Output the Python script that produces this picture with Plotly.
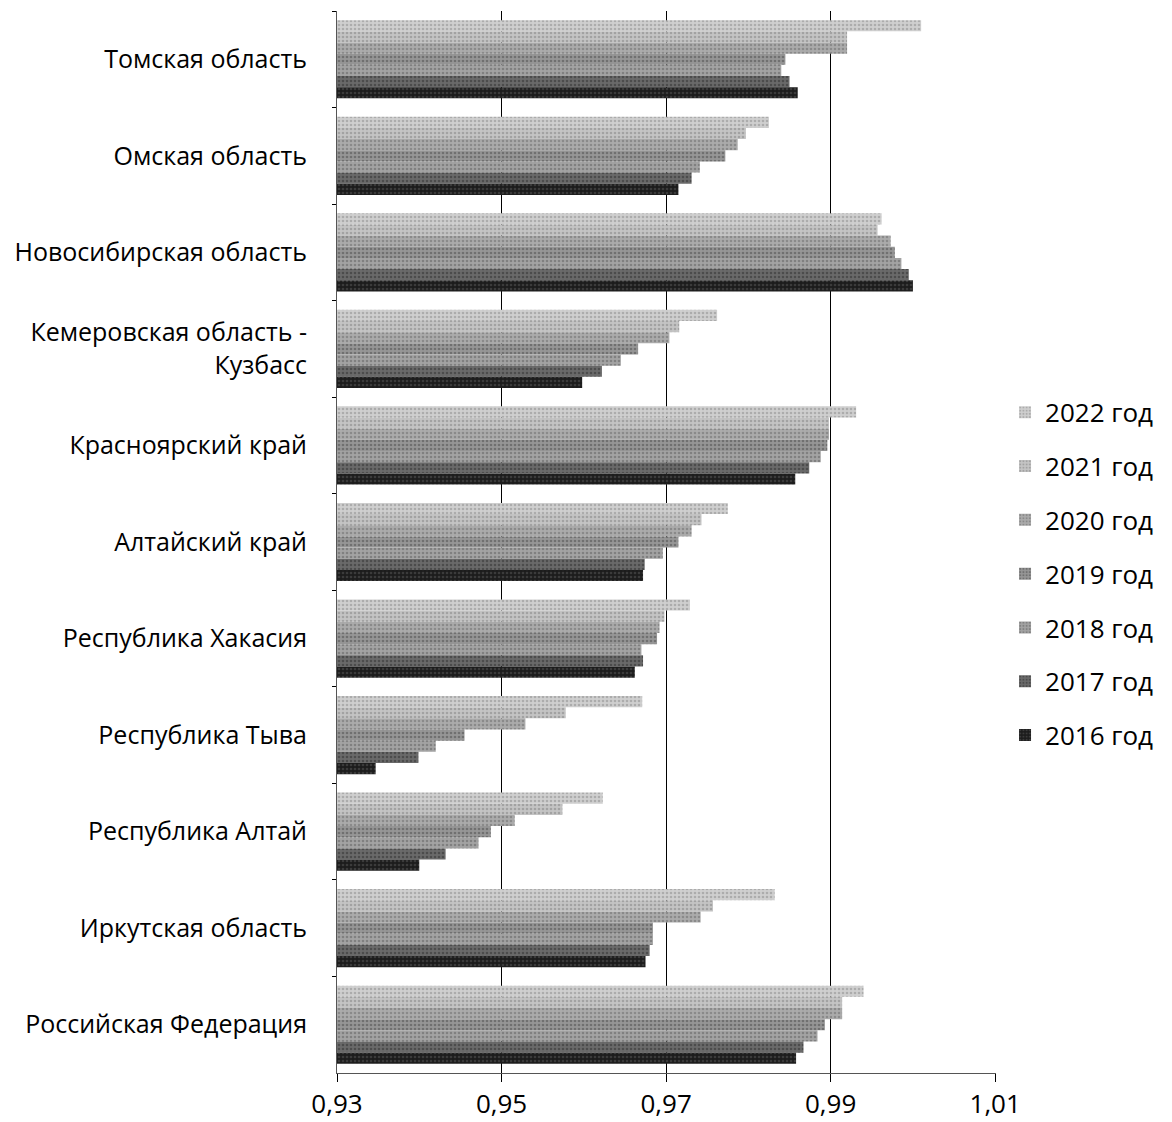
import plotly.graph_objects as go

regions = [
    "Томская область",
    "Омская область",
    "Новосибирская область",
    "Кемеровская область -<br>Кузбасс",
    "Красноярский край",
    "Алтайский край",
    "Республика Хакасия",
    "Республика Тыва",
    "Республика Алтай",
    "Иркутская область",
    "Российская Федерация",
]

years = ["2022 год", "2021 год", "2020 год", "2019 год", "2018 год", "2017 год", "2016 год"]

y2022 = [1.001, 0.9825, 0.9962, 0.9762, 0.9931, 0.9775, 0.9729, 0.9671, 0.9623, 0.9832, 0.9940]
y2021 = [0.992, 0.9797, 0.9957, 0.9716, 0.9898, 0.9743, 0.9698, 0.9578, 0.9574, 0.9757, 0.9914]
y2020 = [0.992, 0.9787, 0.9973, 0.9704, 0.9898, 0.9731, 0.9692, 0.9529, 0.9516, 0.9742, 0.9914]
y2019 = [0.9845, 0.9772, 0.9978, 0.9666, 0.9896, 0.9715, 0.9689, 0.9455, 0.9487, 0.9684, 0.9893]
y2018 = [0.984, 0.9741, 0.9986, 0.9645, 0.9888, 0.9696, 0.9670, 0.9420, 0.9472, 0.9684, 0.9884]
y2017 = [0.985, 0.9731, 0.9995, 0.9622, 0.9874, 0.9674, 0.9672, 0.9399, 0.9432, 0.9680, 0.9867]
y2016 = [0.986, 0.9715, 1.0000, 0.9598, 0.9857, 0.9672, 0.9662, 0.9347, 0.9400, 0.9675, 0.9858]

series = [y2022, y2021, y2020, y2019, y2018, y2017, y2016]

bg_colors = ["#cfcfcf", "#c4c4c4", "#ababab", "#969696", "#a3a3a3", "#6a6a6a", "#1c1c1c"]
fg_colors = ["#8a8a8a", "#808080", "#6a6a6a", "#4a4a4a", "#5e5e5e", "#2e2e2e", "#5a5a5a"]

tick_vals = [0.93, 0.95, 0.97, 0.99, 1.01]

fig = go.Figure()
for name, vals, bgc, fgc in zip(years, series, bg_colors, fg_colors):
    fig.add_trace(go.Bar(
        y=regions,
        x=vals,
        name=name,
        orientation="h",
        legendgroup=name,
        marker=dict(
            color=bgc,
            line=dict(width=0),
            pattern=dict(shape=".", fgcolor=fgc, bgcolor=bgc, size=4, solidity=0.35),
        ),
    ))

fig.update_layout(
    width=1172,
    height=1122,
    barmode="group",
    bargap=0.19,
    bargroupgap=0,
    separators=", ",
    paper_bgcolor="white",
    plot_bgcolor="white",
    margin=dict(l=337, r=176, t=11, b=49),
    font=dict(family="Open Sans", color="black", size=21),
    legend=dict(
        x=1.0137,
        xanchor="left",
        y=0.47,
        yanchor="middle",
        font=dict(size=26, family="Open Sans", color="black"),
        tracegroupgap=17,
        traceorder="grouped",
        bgcolor="rgba(0,0,0,0)",
    ),
    xaxis=dict(
        range=[0.93, 1.0101],
        tickvals=tick_vals,
        tickformat=".2f",
        showgrid=True,
        gridcolor="black",
        gridwidth=1,
        showline=True,
        linecolor="#555555",
        linewidth=1,
        ticks="outside",
        ticklen=8,
        tickcolor="black",
        tickfont=dict(size=26),
        zeroline=False,
        automargin=False,
    ),
    yaxis=dict(
        autorange="reversed",
        showline=True,
        linecolor="#555555",
        linewidth=1,
        ticks="outside",
        tickson="boundaries",
        ticklen=4,
        tickcolor="black",
        tickfont=dict(size=25),
        ticklabelstandoff=24,
        showgrid=False,
        zeroline=False,
        automargin=False,
    ),
)

fig.write_html(
    "out.html",
    config={"displayModeBar": False},
    post_script="document.body.style.margin='0';document.body.style.overflow='hidden';",
)
